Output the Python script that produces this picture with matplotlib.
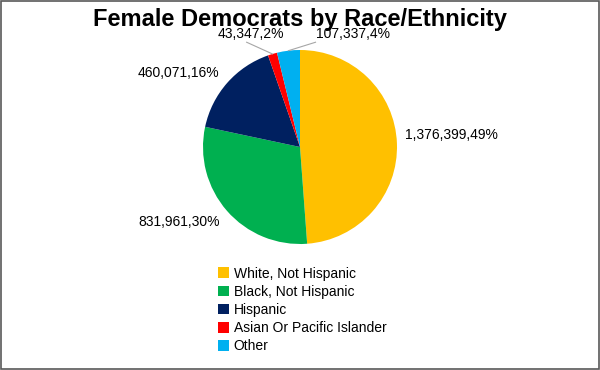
import numpy as np
import matplotlib
matplotlib.use("Agg")
import matplotlib.pyplot as plt
from matplotlib.patches import Rectangle

# data
groups = ["White, Not Hispanic", "Black, Not Hispanic", "Hispanic",
          "Asian Or Pacific Islander", "Other"]
counts = [1376399, 831961, 460071, 43347, 107337]
pct_labels = ["49%", "30%", "16%", "2%", "4%"]
colors = ["#FFC000", "#00B050", "#002060", "#FF0000", "#00B0F0"]

plt.rcParams["font.family"] = ["Liberation Sans", "DejaVu Sans"]

fig = plt.figure(figsize=(6, 3.7), dpi=100)
fig.patch.set_facecolor("white")
fig.patches.append(Rectangle((0.001, 0.002), 0.997, 0.995, transform=fig.transFigure,
                             fill=False, edgecolor="#595959", linewidth=1.2))

fig.text(0.5, 0.948, "Female Democrats by Race/Ethnicity", ha="center", va="center",
         fontsize=17, fontweight="bold", color="black")

# pie axes: centre (300,147) px, radius 97 px
ax = fig.add_axes([(300 - 97) / 600, 1 - (147 + 97) / 370, 194 / 600, 194 / 370])
wedges, _ = ax.pie(counts, colors=colors, startangle=90, counterclock=False,
                   radius=1.0, wedgeprops=dict(linewidth=0))
ax.set_xlim(-1, 1)
ax.set_ylim(-1, 1)
ax.set_aspect("equal")
ax.axis("off")

# label placement (data coords) and alignment
label_pos = [(1.08, 0.12, "left"), (-0.83, -0.77, "right"), (-0.83, 0.76, "right"),
             (-0.16, 1.16, "right"), (0.16, 1.16, "left")]
for i, w in enumerate(wedges):
    txt = f"{counts[i]:,},{pct_labels[i]}"
    x, y, ha = label_pos[i]
    ax.text(x, y, txt, ha=ha, va="center", fontsize=10, color="black", clip_on=False)

# leader lines for the two small slices
for i, (lx, ly) in zip([3, 4], [(-0.55, 1.08), (0.16, 1.08)]):
    w = wedges[i]
    mid = np.deg2rad((w.theta1 + w.theta2) / 2)
    ax.plot([np.cos(mid), lx], [np.sin(mid), ly], color="#A6A6A6", linewidth=0.8,
            clip_on=False)

fig.legend(wedges, groups, loc="upper left", bbox_to_anchor=(212 / 600, 1 - 261 / 370),
           frameon=False, fontsize=10, handlelength=0.8, handleheight=0.8,
           handletextpad=0.35, labelspacing=0.3, borderaxespad=0)

fig.savefig("out.png", dpi=100)
